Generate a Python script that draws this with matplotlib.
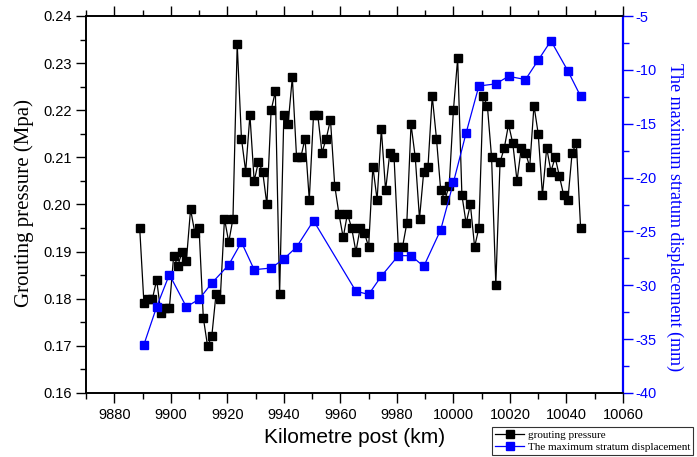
import matplotlib
matplotlib.use("Agg")
import matplotlib.pyplot as plt
from matplotlib.ticker import MultipleLocator, FormatStrFormatter

plt.rcParams["axes.unicode_minus"] = False

# grouting pressure series
km_p = [9889, 9890.5, 9892, 9893.5, 9895, 9896.5, 9898, 9899.5, 9901, 9902.5,
        9904, 9905.5, 9907, 9908.5, 9910, 9911.5, 9913, 9914.5, 9916, 9917.5,
        9919, 9920.5, 9922, 9923.5, 9925, 9926.5, 9928, 9929.5, 9931, 9932.5,
        9934, 9935.5, 9937, 9938.5, 9940, 9941.5, 9943, 9944.5, 9946, 9947.5,
        9949, 9950.5, 9952, 9953.5, 9955, 9956.5, 9958, 9959.5, 9961, 9962.5,
        9964, 9965.5, 9967, 9968.5, 9970, 9971.5, 9973, 9974.5, 9976, 9977.5,
        9979, 9980.5, 9982, 9983.5, 9985, 9986.5, 9988, 9989.5, 9991, 9992.5,
        9994, 9995.5, 9997, 9998.5, 10000, 10001.5, 10003, 10004.5, 10006, 10007.5,
        10009, 10010.5, 10012, 10013.5, 10015, 10016.5, 10018, 10019.5, 10021, 10022.5,
        10024, 10025.5, 10027, 10028.5, 10030, 10031.5, 10033, 10034.5, 10036, 10037.5,
        10039, 10040.5, 10042, 10043.5, 10045]
pressure = [0.195, 0.179, 0.180, 0.180, 0.184, 0.177, 0.178, 0.178, 0.189, 0.187,
            0.190, 0.188, 0.199, 0.194, 0.195, 0.176, 0.170, 0.172, 0.181, 0.180,
            0.197, 0.192, 0.197, 0.234, 0.214, 0.207, 0.219, 0.205, 0.209, 0.207,
            0.200, 0.220, 0.224, 0.181, 0.219, 0.217, 0.227, 0.210, 0.210, 0.214,
            0.201, 0.219, 0.219, 0.211, 0.214, 0.218, 0.204, 0.198, 0.193, 0.198,
            0.195, 0.190, 0.195, 0.194, 0.191, 0.208, 0.201, 0.216, 0.203, 0.211,
            0.210, 0.191, 0.191, 0.196, 0.217, 0.210, 0.197, 0.207, 0.208, 0.223,
            0.214, 0.203, 0.201, 0.204, 0.220, 0.231, 0.202, 0.196, 0.200, 0.191,
            0.195, 0.223, 0.221, 0.210, 0.183, 0.209, 0.212, 0.217, 0.213, 0.205,
            0.212, 0.211, 0.208, 0.221, 0.215, 0.202, 0.212, 0.207, 0.210, 0.206,
            0.202, 0.201, 0.211, 0.213, 0.195]

# maximum stratum displacement series
km_d = [9890.5, 9895, 9899.5, 9905.5, 9910, 9914.5, 9920.5, 9925, 9929.5, 9935.5,
        9940, 9944.5, 9950.5, 9965.5, 9970, 9974.5, 9980.5, 9985, 9989.5, 9995.5,
        10000, 10004.5, 10009, 10015, 10019.5, 10025.5, 10030, 10034.5, 10040.5, 10045]
displacement = [-35.5, -32.0, -29.0, -32.0, -31.3, -29.8, -28.1, -26.0, -28.55, -28.4,
                -27.55, -26.45, -24.0, -30.55, -30.85, -29.15, -27.25, -27.25, -28.25, -24.85,
                -20.45, -15.85, -11.5, -11.3, -10.6, -10.9, -9.1, -7.3, -10.1, -12.45]

BLUE = "#0000ff"
sans = ["Liberation Sans", "DejaVu Sans"]
serif = ["Liberation Serif", "DejaVu Serif"]

fig = plt.figure(figsize=(6.97, 4.57), dpi=100)
ax = fig.add_axes([86/697, 1-393/457, (623-86)/697, (393-16)/457])
ax2 = ax.twinx()

l1, = ax.plot(km_p, pressure, color="k", lw=0.9, marker="s", ms=6,
              mfc="k", mec="k", label="grouting pressure")
l2, = ax2.plot(km_d, displacement, color=BLUE, lw=0.9, marker="s", ms=5.5,
               mfc=BLUE, mec=BLUE, label="The maximum stratum displacement")

ax.set_xlim(9870, 10060)
ax.set_ylim(0.16, 0.24)
ax2.set_ylim(-40, -5)

ax.xaxis.set_major_locator(MultipleLocator(20))
ax.xaxis.set_minor_locator(MultipleLocator(10))
ax.yaxis.set_major_locator(MultipleLocator(0.01))
ax.yaxis.set_minor_locator(MultipleLocator(0.005))
ax.yaxis.set_major_formatter(FormatStrFormatter("%.2f"))
ax2.yaxis.set_major_locator(MultipleLocator(5))
ax2.yaxis.set_minor_locator(MultipleLocator(2.5))

ax.tick_params(axis="x", which="major", direction="out", length=7, width=1, top=True, labelsize=10.5)
ax.tick_params(axis="x", which="minor", direction="out", length=4, width=1, top=True)
ax.tick_params(axis="y", which="major", direction="out", length=7, width=1, right=False, labelsize=10.5)
ax.tick_params(axis="y", which="minor", direction="out", length=4, width=1, right=False)
ax2.tick_params(axis="y", which="major", direction="out", length=7, width=1,
                colors=BLUE, labelsize=10.5, pad=2)
ax2.tick_params(axis="y", which="minor", direction="out", length=4, width=1, colors=BLUE)

for lab in ax.get_xticklabels() + ax.get_yticklabels() + ax2.get_yticklabels():
    lab.set_family(sans)

for s in ax.spines.values():
    s.set_linewidth(1.2)
for s in ax2.spines.values():
    s.set_linewidth(1.2)
ax2.spines["right"].set_color(BLUE)
ax2.spines["right"].set_linewidth(1.6)

ax.set_xlabel("Kilometre post (km)", fontsize=15, family=sans, va="center")
ax.set_ylabel("Grouting pressure (Mpa)", fontsize=15, family=serif, va="center", ha="center")
ax2.set_ylabel("The maximum stratum displacement (mm)", fontsize=13, family=serif,
               color=BLUE, rotation=-90, va="center", ha="center")
ax.xaxis.set_label_coords(0.5, -0.119)
ax.yaxis.set_label_coords(-0.116, 0.505)
ax2.yaxis.set_label_coords(1.097, 0.468)

leg = fig.legend(handles=[l1, l2], loc="upper left",
                 bbox_to_anchor=(492/697, 1-427/457),
                 prop={"family": serif, "size": 8}, frameon=True, fancybox=False,
                 handlelength=2.6, handletextpad=0.3, borderpad=0.3,
                 labelspacing=0.2, borderaxespad=0)
leg.get_frame().set_edgecolor("k")
leg.get_frame().set_linewidth(0.8)

fig.savefig("out.png", dpi=100)
